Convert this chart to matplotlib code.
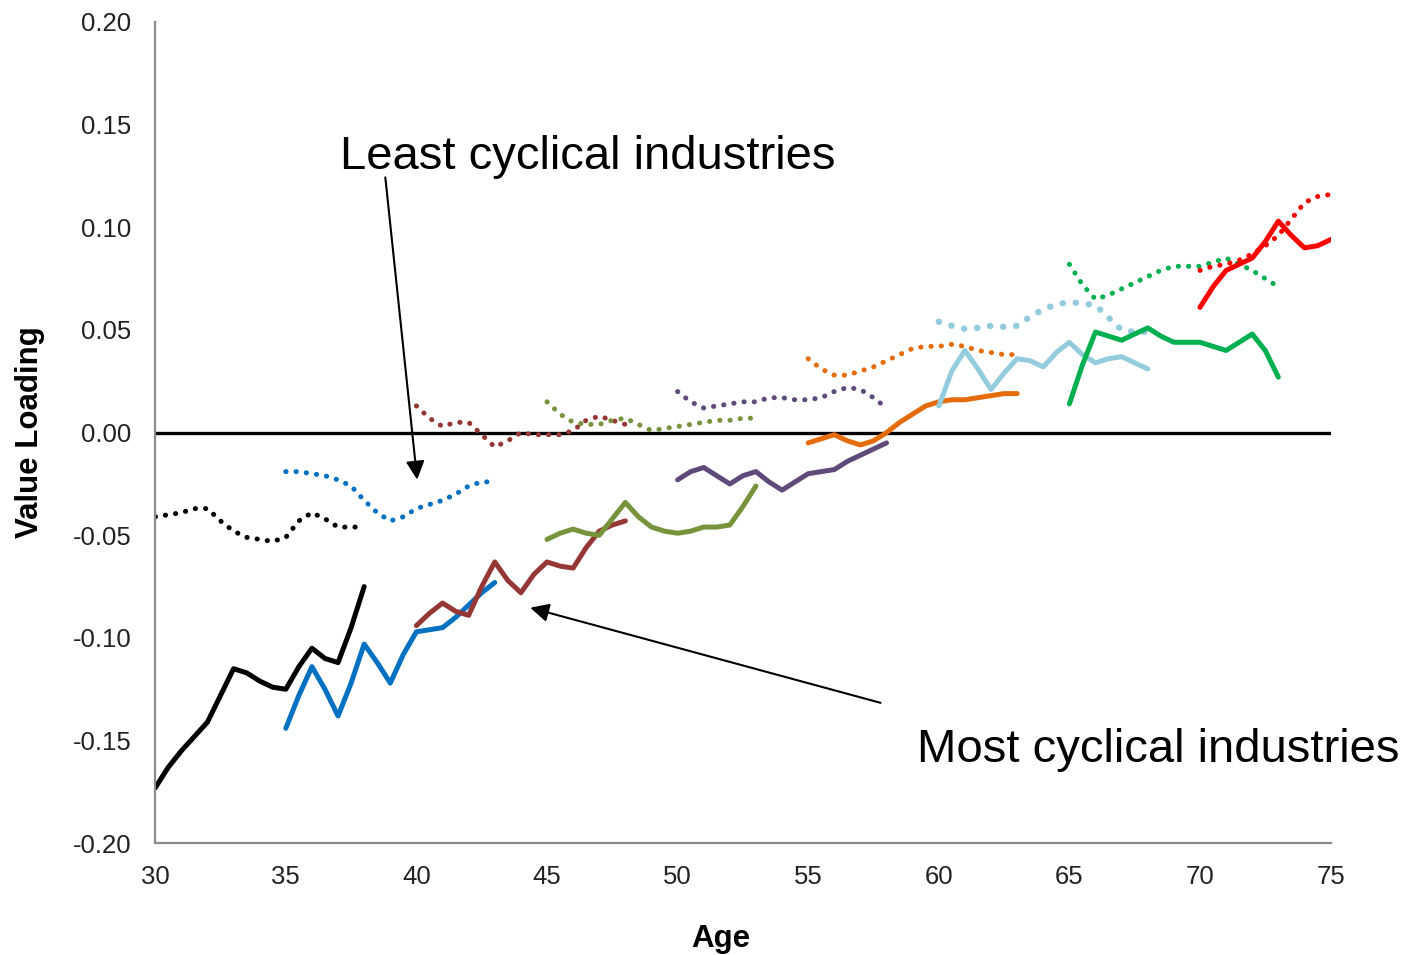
import numpy as np
import matplotlib
matplotlib.use("Agg")
import matplotlib.pyplot as plt

plt.rcParams['font.family'] = ['Liberation Sans', 'DejaVu Sans']

# start age of each cohort line (values every half year, 8 years long)
starts = [30, 35, 40, 45, 50, 55, 60, 65, 70]
colors = ["#000000", "#0070C0", "#953735", "#77933C", "#604A7B",
          "#E46C0A", "#93CDDD", "#00B050", "#FF0000"]

# most cyclical industries (solid lines)
most_black = [-0.173, -0.163, -0.155, -0.148, -0.141, -0.128, -0.115, -0.117, -0.121,
              -0.124, -0.125, -0.114, -0.105, -0.110, -0.112, -0.095, -0.075]
most_blue = [-0.144, -0.128, -0.114, -0.125, -0.138, -0.122, -0.103, -0.112, -0.122,
             -0.108, -0.097, -0.096, -0.095, -0.090, -0.084, -0.078, -0.073]
most_brown = [-0.094, -0.088, -0.083, -0.087, -0.089, -0.075, -0.063, -0.072, -0.078,
              -0.069, -0.063, -0.065, -0.066, -0.056, -0.048, -0.045, -0.043]
most_olive = [-0.052, -0.049, -0.047, -0.049, -0.050, -0.042, -0.034, -0.041, -0.046,
              -0.048, -0.049, -0.048, -0.046, -0.046, -0.045, -0.036, -0.026]
most_purple = [-0.023, -0.019, -0.017, -0.021, -0.025, -0.021, -0.019, -0.024, -0.028,
               -0.024, -0.020, -0.019, -0.018, -0.014, -0.011, -0.008, -0.005]
most_orange = [-0.005, -0.003, -0.001, -0.004, -0.006, -0.004, 0.000, 0.005, 0.009,
               0.013, 0.015, 0.016, 0.016, 0.017, 0.018, 0.019, 0.019]
most_lightblue = [0.013, 0.030, 0.040, 0.031, 0.021, 0.029, 0.036, 0.035, 0.032,
                  0.039, 0.044, 0.038, 0.034, 0.036, 0.037, 0.034, 0.031]
most_green = [0.014, 0.033, 0.049, 0.047, 0.045, 0.048, 0.051, 0.047, 0.044,
              0.044, 0.044, 0.042, 0.040, 0.044, 0.048, 0.040, 0.027]
most_red = [0.061, 0.071, 0.079, 0.082, 0.085, 0.093, 0.103, 0.096, 0.090, 0.091, 0.094]

# least cyclical industries (dotted lines)
least_black = [-0.041, -0.040, -0.039, -0.037, -0.037, -0.043, -0.048, -0.051, -0.052,
               -0.053, -0.051, -0.043, -0.039, -0.042, -0.046, -0.046, -0.046]
least_blue = [-0.019, -0.019, -0.020, -0.021, -0.023, -0.026, -0.033, -0.039, -0.043,
              -0.041, -0.037, -0.035, -0.033, -0.030, -0.026, -0.024, -0.024]
least_brown = [0.013, 0.007, 0.003, 0.005, 0.005, -0.001, -0.007, -0.004, 0.000,
               -0.001, -0.001, -0.001, 0.001, 0.006, 0.008, 0.006, 0.004]
least_olive = [0.015, 0.009, 0.005, 0.004, 0.004, 0.006, 0.007, 0.004, 0.001,
               0.002, 0.003, 0.004, 0.005, 0.006, 0.006, 0.007, 0.007]
least_purple = [0.020, 0.015, 0.012, 0.013, 0.014, 0.015, 0.015, 0.017, 0.017,
                0.016, 0.016, 0.017, 0.020, 0.022, 0.021, 0.017, 0.012]
least_orange = [0.036, 0.031, 0.028, 0.028, 0.030, 0.032, 0.035, 0.038, 0.041,
                0.042, 0.042, 0.043, 0.042, 0.040, 0.039, 0.038, 0.038]
least_lightblue = [0.054, 0.052, 0.0505, 0.051, 0.052, 0.0515, 0.052, 0.0565, 0.060,
                   0.0625, 0.0635, 0.063, 0.062, 0.056, 0.050, 0.049, 0.049]
least_green = [0.082, 0.072, 0.065, 0.067, 0.070, 0.073, 0.076, 0.079, 0.081,
               0.081, 0.081, 0.083, 0.085, 0.082, 0.079, 0.075, 0.071]
least_red = [0.079, 0.081, 0.082, 0.084, 0.087, 0.091, 0.096, 0.104, 0.112, 0.115, 0.116]

most = [most_black, most_blue, most_brown, most_olive, most_purple,
        most_orange, most_lightblue, most_green, most_red]
least = [least_black, least_blue, least_brown, least_olive, least_purple,
         least_orange, least_lightblue, least_green, least_red]

yticks = [-0.20, -0.15, -0.10, -0.05, 0.00, 0.05, 0.10, 0.15, 0.20]
ytick_labels = ["-0.20", "-0.15", "-0.10", "-0.05", "0.00", "0.05", "0.10", "0.15", "0.20"]

fig = plt.figure(figsize=(14.11, 9.55), dpi=100)
ax = fig.add_axes([0.110, 0.117, 0.833, 0.860])

for start, col, vals in zip(starts, colors, least):
    ages = start + 0.5 * np.arange(len(vals))
    dot_w = 4.6 if col == "#93CDDD" else 3.6
    ax.plot(ages, vals, color=col, lw=dot_w, linestyle=(0, (0.05, 2.0)),
            dash_capstyle='round', solid_joinstyle='round')

for start, col, vals in zip(starts, colors, most):
    ages = start + 0.5 * np.arange(len(vals))
    ax.plot(ages, vals, color=col, lw=3.6, solid_joinstyle='round',
            solid_capstyle='round')

ax.axhline(0, color='black', lw=2.4, zorder=1)

ax.set_xlim(30, 75)
ax.set_ylim(-0.20, 0.20)
ax.set_xticks(np.arange(30, 76, 5))
ax.set_yticks(yticks)
ax.set_yticklabels(ytick_labels)
ax.tick_params(length=0, labelsize=18.5, colors='#222222')
ax.tick_params(axis='y', pad=17)
ax.tick_params(axis='x', pad=16)

for s in ['top', 'right']:
    ax.spines[s].set_visible(False)
for s in ['left', 'bottom']:
    ax.spines[s].set_color('#8c8c8c')
    ax.spines[s].set_linewidth(1.6)

ax.set_xlabel("Age", fontsize=22.5, fontweight='bold')
ax.xaxis.set_label_coords(0.481, -0.098)
ax.set_ylabel("Value Loading", fontsize=22.5, fontweight='bold', labelpad=20)

ax.annotate("", xy=(40.03, -0.0229), xytext=(38.81, 0.1243),
            arrowprops=dict(arrowstyle='-|>', color='black', lw=1.5,
                            mutation_scale=28, shrinkA=0, shrinkB=0))
ax.annotate("", xy=(44.36, -0.0853), xytext=(57.77, -0.1316),
            arrowprops=dict(arrowstyle='-|>', color='black', lw=1.5,
                            mutation_scale=28, shrinkA=0, shrinkB=0))

ax.text(37.09, 0.134, "Least cyclical industries", fontsize=34,
        ha='left', va='center')
ax.text(59.18, -0.1545, "Most cyclical industries", fontsize=34,
        ha='left', va='center', clip_on=False)

fig.savefig("out.png", dpi=100)
